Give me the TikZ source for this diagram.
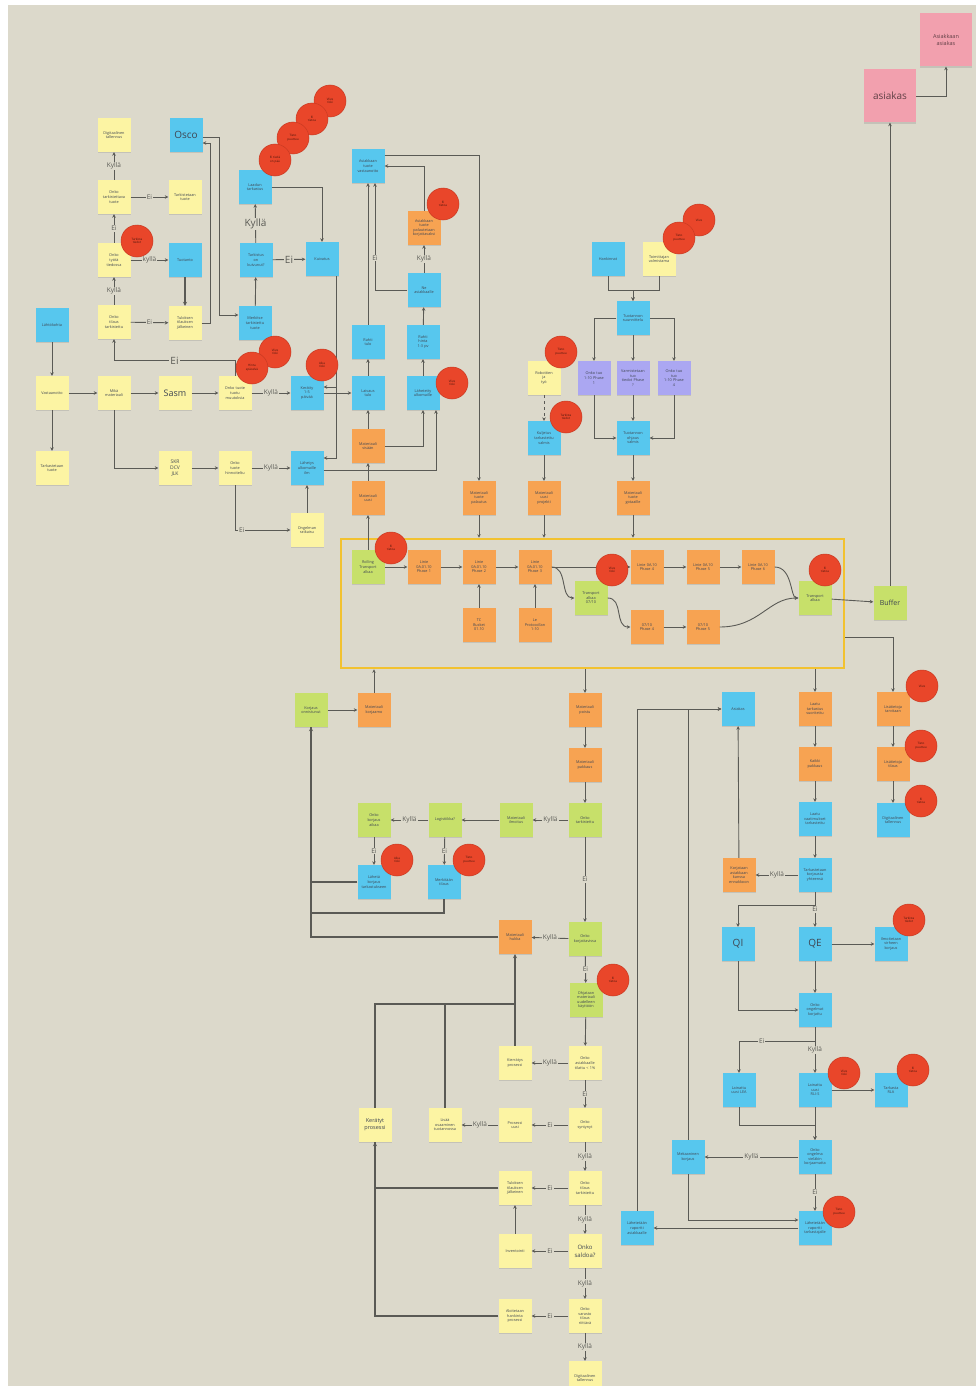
\documentclass[tikz,border=0pt]{standalone}
\usepackage{fontspec}
\setmainfont{Open Sans}
\usepackage{tikz}
\usetikzlibrary{positioning,arrows.meta,calc,shadows}
\definecolor{cbg}{HTML}{DCD9CB}
\definecolor{cyel}{HTML}{FCF4A3}
\definecolor{cblu}{HTML}{57C7EE}
\definecolor{cora}{HTML}{F7A352}
\definecolor{cgrn}{HTML}{C7E06A}
\definecolor{cpur}{HTML}{ABA7F2}
\definecolor{cpnk}{HTML}{F2A0AE}
\definecolor{cred}{HTML}{E9462A}
\definecolor{credd}{HTML}{C93A22}
\definecolor{cframe}{HTML}{F2C230}
\definecolor{cline}{HTML}{5A5A55}
\definecolor{ink}{HTML}{3F4652}
\tikzset{
  note/.style={minimum width=33pt,minimum height=34pt,inner sep=1pt,align=center,text width=31pt,
               text=ink,font=\fontsize{3.8}{4.6}\selectfont,
               drop shadow={shadow xshift=0pt,shadow yshift=-1.4pt,opacity=.25}},
  yel/.style={note,fill=cyel},
  blu/.style={note,fill=cblu},
  ora/.style={note,fill=cora},
  grn/.style={note,fill=cgrn},
  pur/.style={note,fill=cpur},
  pnk/.style={note,fill=cpnk,minimum width=52pt,minimum height=53pt,text width=50pt,text=black!60!cpnk},
  dot/.style={circle,fill=cred,draw=credd,line width=.5pt,minimum size=32pt,inner sep=0pt,align=center,
              text width=22pt,text=black!70!cred,font=\fontsize{3}{3.6}\selectfont},
  frm/.style={draw=cframe,line width=2.6pt,minimum width=503pt,minimum height=129pt},
  fl/.style={-{Stealth[length=3.5pt,width=3.5pt]},draw=cline,line width=.9pt},
  thk/.style={draw=cline,line width=1.5pt},
  thkfl/.style={thk,-{Stealth[length=4pt,width=4pt]}},
  lbl/.style={fill=cbg,inner sep=1pt,text=cline,font=\fontsize{6.5}{7}\selectfont},
  lblb/.style={lbl,font=\fontsize{10}{11}\selectfont}
}
\begin{document}
\begin{tikzpicture}[x=1pt,y=-1pt]
\useasboundingbox (0,0) rectangle (976,1386);
\fill[white] (0,0) rectangle (976,1386);
\fill[cbg] (8,5) rectangle (976,1386);
\node[frm] (frame) at (592.5,603.5) {};

% vasen yläosa
\node[yel] (dg1) at (114,135) {Digitaalinen\\tallennus};
\node[blu,font=\fontsize{10}{11}\selectfont] (osco) at (186,135) {Osco};
\node[yel] (q1) at (114,197) {Onko\\tarkistettava\\tuote};
\node[yel] (n1) at (185,197) {Tarkistetaan\\tuote};
\node[yel] (q2) at (114,260) {Onko\\työtä\\tiedossa};
\node[blu] (n2) at (185,260) {Tuotanto};
\node[yel] (q3) at (114,322) {Onko\\tilaus\\tarkistettu};
\node[yel] (n3) at (185,323) {Tuloksen\\tilauksen\\jälkeinen};
\node[blu] (st) at (52,325) {Lähtökohta};
\node[yel] (a1) at (52,393) {Vastaanotto};
\node[yel] (a2) at (52,468) {Tarkastetaan\\tuote};
\node[yel] (m1) at (114,393) {Mikä\\materiaali};
\node[yel,font=\fontsize{9}{10}\selectfont] (sasm) at (175,393) {Sasm};
\node[yel] (m2) at (235,393) {Onko tuote\\tuotu\\muutoksia};
\node[yel,font=\fontsize{5}{6}\selectfont] (skr) at (175,468) {SKR\\DCV\\JLK};
\node[yel] (m3) at (235,468) {Onko\\tuote\\hinnoiteltu};
\node[blu] (kerl) at (307,393) {Kerätty\\1-5\\päivää};
\node[blu] (sel) at (307,468) {Lähetys\\ulkomaille\\ilm};
\node[yel] (ong) at (307,530) {Ongelman\\ratkaisu};
\node[blu] (tark) at (255,187) {Laadun\\tarkastus};
\node[blu] (sop) at (256,260) {Tarkistus\\on\\kuivunut?};
\node[blu] (kui) at (322,259) {Kuivatus};
\node[blu] (mer) at (255,323) {Merkitse\\tarkistettu\\tuote};

% keskiosa ylhäällä
\node[blu] (asi) at (368,166) {Asiakkaan\\tuote\\vastaanotto};
\node[ora] (ora1) at (424,228) {Asiakkaan\\tuote\\palautetaan\\korjattavaksi};
\node[blu] (ne) at (424,290) {Ne\\asiakkaalle};
\node[blu] (kt) at (368,342) {Rahti\\tulo};
\node[blu] (kh) at (423,342) {Rahti\\hinta\\1-3 pv};
\node[blu] (lai) at (368,393) {Laivaus\\tulo};
\node[blu] (lah) at (423,393) {Lähetetty\\ulkomaille};
\node[ora] (ms) at (368,446) {Materiaali\\sisään};
\node[ora] (mu) at (368,498) {Materiaali\\uusi};
\node[ora] (mg1) at (479,498) {Materiaali\\tuote\\palautus};
\node[yel] (rob) at (544,378) {Robottien\\ja\\työ};
\node[blu] (kv) at (544,438) {Kuljetus\\tarkastettu\\valmis};
\node[ora] (mg2) at (544,498) {Materiaali\\uusi\\projekti};
\node[blu] (hoi) at (608,259) {Hankinnat};
\node[yel] (yks) at (659,259) {Toimittajan\\valmistama};
\node[blu] (ts) at (633,318) {Tuotannon\\suunnittelu};
\node[pur] (p1) at (594,378) {Onko tuo\\1-10 Phase\\1};
\node[pur] (p2) at (633,378) {Varmistetaan\\tuo\\tiedot Phase\\?};
\node[pur] (p3) at (674,378) {Onko tuo\\tuo\\1-10 Phase\\4};
\node[blu] (oh) at (633,438) {Tuotannon\\ohjaus\\valmis};
\node[ora] (mg3) at (633,498) {Materiaali\\tuote\\gotaaille};

% kehys
\node[grn] (rt) at (368,567) {Rolling\\Transport\\alkaa};
\node[ora] (l1) at (424,567) {Linie\\0A.01.10\\Phase 1};
\node[ora] (l2) at (479,567) {Linie\\0A.01.10\\Phase 2};
\node[ora] (l3) at (535,567) {Linie\\0A.01.10\\Phase 3};
\node[ora] (l4) at (647,567) {Linie 0A.10\\Phase 4};
\node[ora] (l5) at (703,567) {Linie 0A.10\\Phase 5};
\node[ora] (l6) at (758,567) {Linie 0A.10\\Phase 6};
\node[ora] (tc) at (479,625) {TC\\Bucket\\01.10};
\node[ora] (le) at (535,625) {Le\\Protocollan\\1-10};
\node[grn] (t07) at (591,598) {Transport\\alkaa\\07/10};
\node[ora] (b4) at (647,627) {07/10\\Phase 4};
\node[ora] (b5) at (703,627) {07/10\\Phase 5};
\node[grn] (ta) at (815,598) {Transport\\alkaa};
\node[grn,font=\fontsize{7}{8}\selectfont] (buf) at (890,603) {Buffer};
\node[pnk,font=\fontsize{10}{11}\selectfont] (asiakas) at (890,96) {asiakas};
\node[pnk,font=\fontsize{5.5}{7}\selectfont] (aa) at (946,40) {Asiakkaan\\asiakas};

% alaosa keskellä
\node[grn] (kon) at (311,710) {Korjaus\\onnistunut};
\node[ora] (mk) at (374,710) {Materiaali\\korjaamo};
\node[ora] (mp) at (585,710) {Materiaali\\poistu};
\node[ora] (mpa) at (585,765) {Materiaali\\pakkaus};
\node[grn] (ot) at (585,820) {Onko\\tarkistettu};
\node[grn] (mi) at (516,820) {Materiaali\\ilmoitus};
\node[grn] (lo) at (445,820) {Logistiikka?};
\node[grn] (ok) at (374,820) {Onko\\korjaus\\aikaa};
\node[blu] (b1) at (374,882) {Lähetä\\korjaus\\tarkastukseen};
\node[blu] (b2) at (444,882) {Merkitään\\tilaus};
\node[grn] (okj) at (585,939) {Onko\\korjattavissa};
\node[ora] (mh) at (515,937) {Materiaali\\hukka};
\node[grn] (g3) at (586,1000) {Ohjataan\\materiaali\\uudelleen\\käyttöön};
\node[yel] (q4) at (585,1063) {Onko\\asiakkaalle\\tilattu < 1\%};
\node[yel] (kie) at (515,1063) {Kierrätys\\prosessi};
\node[yel,font=\fontsize{5.5}{7}\selectfont] (ker) at (375,1125) {Kerätyt\\prosessi};
\node[yel] (lis) at (445,1125) {Lisää\\osaaminen\\tuotannossa};
\node[yel] (pu) at (515,1125) {Prosessi\\uusi};
\node[yel] (os) at (585,1125) {Onko\\syntynyt};
\node[yel] (q5) at (585,1188) {Onko\\tilaus\\tarkistettu};
\node[yel] (tul) at (515,1188) {Tuloksen\\tilauksen\\jälkeinen};
\node[yel,font=\fontsize{6}{7.5}\selectfont] (sal) at (585,1251) {Onko\\saldoa?};
\node[yel] (inv) at (515,1251) {Inventointi};
\node[yel] (q6) at (585,1316) {Onko\\varasto\\tilaus\\riittävä};
\node[yel] (ak) at (515,1316) {Aloitetaan\\hankinta\\prosessi};
\node[yel] (dg2) at (585,1378) {Digitaalinen\\tallennus};

% oikea alaosa
\node[blu] (asks) at (738,709) {Asiakas};
\node[ora] (lt) at (815,709) {Laatu\\tarkastus\\suoritettu};
\node[ora] (kp) at (815,764) {Kaikki\\pakkaus};
\node[blu] (lv) at (815,819) {Laatu\\vaatimukset\\tarkastettu};
\node[blu] (ty) at (815,875) {Tarkastetaan\\korjausta\\yhteensä};
\node[ora] (ko) at (739,875) {Korjataan\\asiakkaan\\kanssa\\ennakkoon};
\node[blu,font=\fontsize{10}{11}\selectfont] (qi) at (738,944) {QI};
\node[blu,font=\fontsize{10}{11}\selectfont] (qe) at (815,944) {QE};
\node[blu] (qer) at (891,944) {Ilmoitetaan\\virheen\\korjaus};
\node[blu] (oo) at (815,1010) {Onko\\ongelmat\\korjattu};
\node[blu] (lea) at (739,1090) {Lainattu\\uusi LEA};
\node[blu] (rl) at (815,1090) {Lainattu\\uusi\\RLI-S};
\node[blu] (rla) at (891,1090) {Tarkasta\\RLA};
\node[blu] (oov) at (815,1157) {Onko\\ongelma\\vieläkin\\korjaamatta};
\node[blu] (mn) at (688,1157) {Mekaaninen\\korjaus};
\node[blu] (ls) at (815,1228) {Lähetetään\\raportti\\tarkastajalle};
\node[blu] (lh) at (637,1228) {Lähetetään\\raportti\\asiakkaalle};
\node[ora] (r1) at (893,709) {Lisätietoja\\tarvitaan};
\node[ora] (r2) at (893,764) {Lisätietoja\\tilaus};
\node[blu] (r3) at (893,820) {Digitaalinen\\tallennus};

% yhteydet vasen yläosa
\draw[fl] (q1) -- node[lbl]{Kyllä} (dg1);
\draw[fl] (q2) -- node[lbl]{Ei} (q1);
\draw[fl] (q3) -- node[lbl]{Kyllä} (q2);
\draw[fl] (q1) -- node[lbl]{Ei} (n1);
\draw[fl] (q2) -- node[lbl]{kyllä} (n2);
\draw[fl] (q3) -- node[lbl]{Ei} (n3);
\draw[thkfl] (n2) -- (n3);
\draw[fl] (n3.east) -- ++(9,0) |- ($(osco.east)+(0,8)$);
\draw[fl] ($(osco.east)+(0,2)$) -- ++(17,0) |- ($(mer.west)+(0,-8)$);
\draw[fl] (mer) -- (sop);
\draw[fl] (sop) -- node[lblb]{Kyllä} (tark);
\draw[fl] (sop) -- node[lblb]{Ei} (kui);
\draw[fl] (tark.east) -| (kui.north);
\coordinate (kd) at ($(kui.south east)+(-2,0)$);
\draw[fl] (kd) |- ($(kerl.east)+(0,-6)$);
\draw[fl] (kd) |- ($(sel.east)+(0,-10)$);
\draw[fl] (m2.north) -- ++(0,-15) -| node[lblb,pos=.25]{Ei} (q3.south);
\draw[fl] (st) -- (a1);
\draw[fl] (a1) -- (a2);
\draw[fl] (a1) -- (m1);
\draw[fl] (m1) -- (sasm);
\draw[fl] (sasm) -- (m2);
\draw[fl] (m2) -- node[lbl]{Kyllä} (kerl);
\draw[fl] (m1.south) |- (skr.west);
\draw[fl] (skr) -- (m3);
\draw[fl] (m3) -- node[lbl]{Kyllä} (sel);
\draw[fl] (m3.south) |- node[lbl,pos=.56]{Ei} (ong.west);
\draw[fl] (ong) -- (sel);

% keskiosa
\draw[fl] (kerl) -- (lai);
\draw[fl] (lai) -- (kt);
\draw[fl] (kt) -- (asi);
\draw[fl] (kh) -- (ne);
\draw[fl] (lah) -- (kh);
\draw[fl] (ne) -- node[lbl]{Kyllä} (ora1);
\draw[fl] (ora1.north) |- (asi.east);
\draw[fl] (ne.west) -| node[lbl,pos=.65]{Ei} ($(asi.south)+(7,0)$);
\draw[fl] (ms) -- (lai);
\draw[fl] (ms.east) -| (lah.south);
\draw[fl] ($(sel.east)+(0,2)$) -| ($(lah.south)+(13,0)$);
\draw[fl] (mu) -- (ms);
\draw[fl] (rt) -- (mu);
\draw[fl] ($(asi.east)+(0,-11)$) -| (mg1.north);
\draw[fl] (mg1.south) -- (mg1.south |- frame.north);
\draw[fl,dashed] (rob) -- (kv);
\draw[fl] (kv) -- (mg2);
\draw[fl] (mg2.south) -- (mg2.south |- frame.north);
\draw[fl] (hoi.south) -- ++(0,14) -| (ts.north);
\draw[fl] (yks.south) -- ++(0,14) -| (ts.north);
\draw[fl] (ts.west) -| (p1.north);
\draw[fl] (ts) -- (p2);
\draw[fl] (ts.east) -| (p3.north);
\draw[fl] (p1.south) |- (oh.west);
\draw[fl] (p2) -- (oh);
\draw[fl] (p3.south) |- (oh.east);
\draw[fl] (oh) -- (mg3);
\draw[fl] (mg3.south) -- (mg3.south |- frame.north);

% kehyksen sisällä
\draw[fl] (rt) -- (l1);
\draw[fl] (l1) -- (l2);
\draw[fl] (l2) -- (l3);
\draw[fl] (l3) -- (l4);
\draw[fl] (tc) -- (l2);
\draw[fl] (le) -- (l3);
\draw[fl] (l3.east) .. controls +(16,0) and +(-14,0) .. (t07.west);
\draw[fl] (t07.east) .. controls +(16,0) and +(-16,0) .. (b4.west);
\draw[fl] (l4) -- (l5);
\draw[fl] (l5) -- (l6);
\draw[fl] (l6.east) .. controls +(18,0) and +(-8,0) .. (ta.west);
\draw[fl] (b5.east) .. controls +(40,0) and +(-30,0) .. (ta.west);
\draw[fl] (b4) -- (b5);
\draw[fl] (ta) -- (buf);
\draw[fl] (buf) -- (asiakas);
\draw[fl] (asiakas.east) -| (aa.south);
\draw[fl] ($(frame.east)+(0,34)$) -| (r1.north);

% alaosa
\draw[fl] (kon) -- (mk);
\draw[fl] (mk.north) -- (mk.north |- frame.south);
\draw[fl] (mp.north |- frame.south) -- (mp);
\draw[fl] (lt.north |- frame.south) -- (lt);
\draw[fl] (mp) -- (mpa);
\draw[fl] (mpa) -- (ot);
\draw[fl] (ot) -- node[lbl]{Kyllä} (mi);
\draw[fl] (mi) -- (lo);
\draw[fl] (lo) -- node[lbl]{Kyllä} (ok);
\draw[fl] (ok) -- node[lbl]{Ei} (b1);
\draw[fl] (lo) -- node[lbl]{Ei} (b2);
\draw[fl] (ot) -- node[lbl]{Ei} (okj);
\draw[fl] (okj) -- node[lbl]{Kyllä} (mh);
\draw[fl] (okj) -- node[lbl]{Ei} (g3);
\draw[fl] (g3) -- (q4);
\draw[fl] (q4) -- node[lbl]{Kyllä} (kie);
\draw[fl] (q4) -- node[lbl]{Ei} (os);
\draw[fl] (os) -- node[lbl]{Ei} (pu);
\draw[fl] (pu) -- node[lbl]{Kyllä} (lis);
\draw[fl] (os) -- node[lbl]{Kyllä} (q5);
\draw[fl] (q5) -- node[lbl]{Ei} (tul);
\draw[fl] (q5) -- node[lbl]{Kyllä} (sal);
\draw[fl] (sal) -- node[lbl]{Ei} (inv);
\draw[fl] (inv) -- (tul);
\draw[fl] (sal) -- node[lbl]{Kyllä} (q6);
\draw[fl] (q6) -- node[lbl]{Ei} (ak);
\draw[fl] (q6) -- node[lbl]{Kyllä} (dg2);
\draw[thkfl] (mh.west) -| (kon.south);
\draw[thk] (b1.west) -| (kon.south);
\draw[thk] (b2.south) -- ++(0,14) -| (kon.south);
\draw[thkfl] (kie.north) -- (mh.south);
\coordinate (kj) at ($(kie.north)+(0,-42)$);
\draw[thk] (ker.north) |- (kj);
\draw[thk] (lis.north) -- (lis.north |- kj);
\draw[thkfl] (tul.west) -| (ker.south);
\draw[thk] (ak.west) -| (ker.south);

% oikea alaosa
\draw[fl] (lt) -- (kp);
\draw[fl] (kp) -- (lv);
\draw[fl] (lv) -- (ty);
\draw[fl] (ty) -- node[lbl]{Kyllä} (ko);
\draw[fl] (ko) -- (asks);
\draw[fl] (ty.south) -- ++(0,13) -| (qi.north);
\draw[fl] (ty) -- node[lbl]{Ei} (qe);
\draw[fl] (qe) -- (qer);
\draw[fl] (qi.south) |- (oo.west);
\draw[fl] (qe) -- (oo);
\draw[fl] (oo.south) -- ++(0,14) -| node[lbl,pos=.35]{Ei} (lea.north);
\draw[fl] (oo) -- node[lbl]{Kyllä} (rl);
\draw[fl] (rl) -- (rla);
\draw[fl] (lea.south) -- ++(0,18) -| (oov.north);
\draw[fl] (rl) -- (oov);
\draw[fl] (oov) -- node[lbl]{Kyllä} (mn);
\draw[fl] (oov) -- node[lbl]{Ei} (ls);
\draw[fl] (mn.north) |- (asks.west);
\draw[fl] (lh.north) |- (asks.west);
\draw[fl] (mn.south) |- ($(ls.west)+(0,-8)$);
\draw[fl] (ls) -- (lh);
\draw[fl] (r1) -- (r2);
\draw[fl] (r2) -- (r3);

% punaiset pallot
\node[dot] (c1) at (137,241) {Tarkista\\tiedot};
\node[dot] (c2) at (330,101) {Viive\\riski};
\node[dot] (c3) at (312,119) {Ei\\tietoa};
\node[dot] (c4) at (293,138) {Tieto\\puuttuu};
\node[dot] (c5) at (275,160) {Ei tiedä\\on pää};
\node[dot] (c6) at (275,352) {Viive\\riski};
\node[dot] (c7) at (252,368) {Hinta\\epäselvä};
\node[dot] (c8) at (322,365) {Aika\\riski};
\node[dot] (c9) at (443,204) {Ei\\tietoa};
\node[dot] (c10) at (452,383) {Viive\\riski};
\node[dot] (c11) at (561,352) {Tieto\\puuttuu};
\node[dot] (c12) at (566,417) {Tarkista\\tiedot};
\node[dot] (c13) at (699,220) {Viive};
\node[dot] (c14) at (679,238) {Tieto\\puuttuu};
\node[dot] (c15) at (391,548) {Ei\\tietoa};
\node[dot] (c16) at (612,570) {Viive\\riski};
\node[dot] (c17) at (825,570) {Ei\\tietoa};
\node[dot] (c18) at (397,860) {Aika\\riski};
\node[dot] (c19) at (469,860) {Tieto\\puuttuu};
\node[dot] (c20) at (613,980) {Ei\\tietoa};
\node[dot] (c21) at (922,686) {Viive};
\node[dot] (c22) at (921,746) {Tieto\\puuttuu};
\node[dot] (c23) at (921,801) {Ei\\tietoa};
\node[dot] (c24) at (909,920) {Tarkista\\tiedot};
\node[dot] (c25) at (844,1073) {Viive\\riski};
\node[dot] (c26) at (913,1070) {Ei\\tietoa};
\node[dot] (c27) at (839,1212) {Tieto\\puuttuu};
\end{tikzpicture}
\end{document}
